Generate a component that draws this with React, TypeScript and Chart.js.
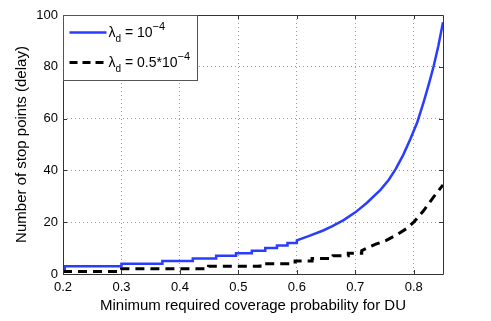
import { useEffect, useRef } from 'react';
import { Chart, registerables } from 'chart.js';

Chart.register(...registerables);

// Blue series: lambda_d = 1e-4 (step corners in the low part)
const blueX = [0.2, 0.203, 0.203, 0.3, 0.3, 0.37, 0.37, 0.422, 0.422, 0.462, 0.462, 0.496, 0.496, 0.523, 0.523, 0.546, 0.546, 0.566, 0.566, 0.584, 0.584, 0.6, 0.6, 0.62, 0.645, 0.66, 0.68, 0.7, 0.72, 0.743, 0.757, 0.769, 0.782, 0.794, 0.806, 0.817, 0.826, 0.834, 0.842, 0.85];
const blueY = [2, 2, 3, 3, 4, 4, 5, 5, 6, 6, 7, 7, 8, 8, 9, 9, 10, 10, 11, 11, 12, 12, 13, 14.6, 16.8, 18.4, 20.8, 23.8, 27.5, 32.5, 36.3, 40.5, 46, 52, 58.6, 66.5, 73.5, 80.2, 88, 97.2];

// Black dashed series: lambda_d = 0.5e-4
const blackX = [0.2, 0.3, 0.3, 0.449, 0.449, 0.537, 0.537, 0.597, 0.597, 0.626, 0.626, 0.662, 0.662, 0.688, 0.688, 0.711, 0.711, 0.72, 0.735, 0.753, 0.77, 0.788, 0.8, 0.817, 0.834, 0.85];
const blackY = [1, 1, 2, 2, 3, 3, 4, 4, 5, 5, 6, 6, 7, 7, 8, 8, 9, 10, 11.5, 13, 15, 17.6, 20, 24.5, 29.8, 34.4];

const xTickValues = [0.2, 0.3, 0.4, 0.5, 0.6, 0.7, 0.8];
const yTickValues = [0, 20, 40, 60, 80, 100];

const seriesLabels = ['10', '0.5*10'];
const xTitle = 'Minimum required coverage probability for DU';
const yTitle = 'Number of stop points (delay)';

const FONT = '"Liberation Sans", Arial, Helvetica, sans-serif';
const BLUE = '#2a3dff';

const framePlugin = {
  id: 'matlabFrame',
  afterDraw(chart: any) {
    const { ctx, chartArea } = chart;
    const { left, right, top, bottom } = chartArea;
    const xs = chart.scales.x;
    const ys = chart.scales.y;
    ctx.save();
    ctx.strokeStyle = '#333';
    ctx.lineWidth = 1;
    ctx.setLineDash([]);
    ctx.beginPath();
    ctx.rect(Math.round(left) + 0.5, Math.round(top) + 0.5, Math.round(right - left), Math.round(bottom - top));
    ctx.stroke();
    // inward ticks
    const tl = 4;
    ctx.beginPath();
    xTickValues.forEach((v) => {
      const px = Math.round(xs.getPixelForValue(v)) + 0.5;
      ctx.moveTo(px, bottom);
      ctx.lineTo(px, bottom - tl);
      ctx.moveTo(px, top);
      ctx.lineTo(px, top + tl);
    });
    yTickValues.forEach((v) => {
      const py = Math.round(ys.getPixelForValue(v)) + 0.5;
      ctx.moveTo(left, py);
      ctx.lineTo(left + tl, py);
      ctx.moveTo(right, py);
      ctx.lineTo(right - tl, py);
    });
    ctx.stroke();

    // legend box
    const bx = Math.round(left) + 0.5;
    const by = Math.round(top) + 0.5;
    const bw = 134;
    const bh = 65;
    ctx.fillStyle = '#fff';
    ctx.fillRect(bx, by, bw, bh);
    ctx.strokeStyle = '#555';
    ctx.strokeRect(bx, by, bw, bh);

    const rows = [
      { y: by + 17, color: BLUE, dash: [] as number[], width: 2.5, label: seriesLabels[0] },
      { y: by + 47, color: '#000', dash: [8, 5], width: 3, label: seriesLabels[1] },
    ];
    rows.forEach((r) => {
      ctx.strokeStyle = r.color;
      ctx.lineWidth = r.width;
      ctx.setLineDash(r.dash);
      ctx.beginPath();
      ctx.moveTo(bx + 6, r.y);
      ctx.lineTo(bx + 43, r.y);
      ctx.stroke();
      ctx.setLineDash([]);
      ctx.fillStyle = '#000';
      ctx.textBaseline = 'middle';
      ctx.textAlign = 'left';
      let tx = bx + 45;
      ctx.font = `14px ${FONT}`;
      ctx.fillText('λ', tx, r.y + 1);
      tx += ctx.measureText('λ').width;
      ctx.font = `10px ${FONT}`;
      ctx.fillText('d', tx, r.y + 7);
      tx += ctx.measureText('d').width;
      ctx.font = `14px ${FONT}`;
      const main = ' = ' + r.label;
      ctx.fillText(main, tx, r.y + 1);
      tx += ctx.measureText(main).width;
      ctx.font = `11px ${FONT}`;
      ctx.fillText('−4', tx, r.y - 6);
    });
    ctx.restore();
  },
};

export default function App() {
  const ref = useRef<HTMLCanvasElement | null>(null);
  useEffect(() => {
    if (!ref.current) return;
    const chart = new Chart(ref.current, {
      type: 'line',
      data: {
        datasets: [
          {
            label: 'blue',
            data: blueX.map((x, i) => ({ x, y: blueY[i] })),
            borderColor: BLUE,
            borderWidth: 2.5,
            pointRadius: 0,
            tension: 0,
            fill: false,
          },
          {
            label: 'black',
            data: blackX.map((x, i) => ({ x, y: blackY[i] })),
            borderColor: '#000',
            borderWidth: 3,
            borderDash: [9, 6],
            pointRadius: 0,
            tension: 0,
            fill: false,
          },
        ],
      },
      options: {
        responsive: false,
        animation: false,
        devicePixelRatio: 1,
        layout: { padding: { left: 0, top: 15, right: 48, bottom: 0 } },
        plugins: { legend: { display: false }, tooltip: { enabled: false }, title: { display: false } },
        scales: {
          x: {
            type: 'linear',
            min: 0.2,
            max: 0.85,
            afterBuildTicks: (s: any) => {
              s.ticks = xTickValues.map((v) => ({ value: v }));
            },
            afterFit: (s: any) => {
              s.height = 47;
            },
            ticks: {
              font: { family: FONT, size: 13 },
              color: '#000',
              padding: 6,
              maxRotation: 0,
              callback: (v: any) => String(Math.round(Number(v) * 10) / 10),
            },
            grid: { color: '#9a9a9a', lineWidth: 1, drawTicks: false },
            border: { display: false, dash: [1, 3] },
            title: {
              display: true,
              text: xTitle,
              font: { family: FONT, size: 15 },
              color: '#000',
              padding: { top: 0, bottom: 6 },
            },
          },
          y: {
            type: 'linear',
            min: 0,
            max: 100,
            afterBuildTicks: (s: any) => {
              s.ticks = yTickValues.map((v) => ({ value: v }));
            },
            afterFit: (s: any) => {
              s.width = 63;
            },
            ticks: {
              font: { family: FONT, size: 13 },
              color: '#000',
              padding: 5,
            },
            grid: { color: '#9a9a9a', lineWidth: 1, drawTicks: false },
            border: { display: false, dash: [1, 3] },
            title: {
              display: true,
              text: yTitle,
              font: { family: FONT, size: 15 },
              color: '#000',
              padding: { top: 13, bottom: 0 },
            },
          },
        },
      },
      plugins: [framePlugin],
    });
    return () => chart.destroy();
  }, []);
  return (
    <div style={{ position: 'fixed', left: 0, top: 0, width: 491, height: 321, background: '#fff' }}>
      <canvas ref={ref} width={491} height={321} style={{ display: 'block', width: 491, height: 321 }} />
    </div>
  );
}
